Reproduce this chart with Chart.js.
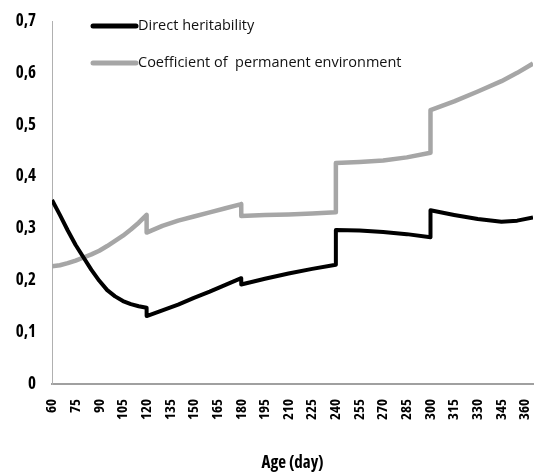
<!DOCTYPE html>
<html><head><meta charset="utf-8">
<script src="https://cdn.jsdelivr.net/npm/chart.js@4"></script>
<style>html,body{margin:0;padding:0;background:#fff}canvas{display:block}</style>
</head><body>
<canvas id="c" width="536" height="475"></canvas>
<script>
const ageDays = [60,65,70,75,80,85,90,95,100,105,110,115,120,120,130,140,150,160,170,180,180,195,210,225,240,240,255,270,285,300,300,315,330,345,355,365];
const directHeritability = [0.355,0.326,0.296,0.268,0.244,0.220,0.199,0.181,0.169,0.160,0.154,0.150,0.147,0.131,0.142,0.153,0.166,0.178,0.191,0.204,0.192,0.203,0.213,0.222,0.230,0.297,0.296,0.293,0.289,0.283,0.335,0.326,0.318,0.313,0.315,0.321];
const permanentEnvironment = [0.227,0.229,0.233,0.238,0.244,0.250,0.257,0.266,0.276,0.286,0.298,0.311,0.326,0.292,0.305,0.315,0.323,0.331,0.339,0.347,0.324,0.326,0.327,0.329,0.331,0.426,0.428,0.431,0.437,0.446,0.528,0.545,0.564,0.584,0.600,0.618];
const xTickValues = [60,75,90,105,120,135,150,165,180,195,210,225,240,255,270,285,300,315,330,345,360];
const yTickValues = [0,0.1,0.2,0.3,0.4,0.5,0.6,0.7];
const seriesLabels = ['Direct heritability','Coefficient of  permanent environment'];
const xAxisTitle = 'Age (day)';

const FAMILY = "'Open Sans','DejaVu Sans',sans-serif";

const inlineLegend = {
  id: 'inlineLegend',
  afterDraw(chart) {
    const ctx = chart.ctx;
    const a = chart.chartArea;
    ctx.save();
    chart.data.datasets.forEach((ds, i) => {
      const y = a.top + 5 + i * 37;
      const x0 = a.left + 41;
      ctx.beginPath();
      ctx.strokeStyle = ds.borderColor;
      ctx.lineWidth = 5;
      ctx.lineCap = 'round';
      ctx.moveTo(x0, y);
      ctx.lineTo(x0 + 43, y);
      ctx.stroke();
      ctx.fillStyle = '#111';
      ctx.font = "14.5px " + FAMILY;
      ctx.textBaseline = 'middle';
      ctx.textAlign = 'left';
      ctx.fillText(ds.label, x0 + 45, y);
    });
    ctx.restore();
  }
};

new Chart(document.getElementById('c'), {
  type: 'line',
  data: {
    datasets: [
      {
        label: seriesLabels[0],
        data: ageDays.map((d, i) => ({x: d, y: directHeritability[i]})),
        borderColor: '#000000',
        borderWidth: 4
      },
      {
        label: seriesLabels[1],
        data: ageDays.map((d, i) => ({x: d, y: permanentEnvironment[i]})),
        borderColor: '#a6a6a6',
        borderWidth: 4.5
      }
    ]
  },
  options: {
    responsive: false,
    animation: false,
    layout: {padding: {top: 21, right: 3, bottom: 0, left: 0}},
    plugins: {legend: {display: false}, tooltip: {enabled: false}},
    elements: {point: {radius: 0}, line: {tension: 0, borderJoinStyle: 'round'}},
    scales: {
      x: {
        type: 'linear', min: 60, max: 365,
        afterBuildTicks: s => { s.ticks = xTickValues.map(v => ({value: v})); },
        afterFit: s => { s.height = 91; s.paddingLeft = 0; s.paddingRight = 0; },
        grid: {display: false, drawTicks: false},
        border: {display: true, color: '#a0a0a0', width: 2},
        ticks: {minRotation: 90, maxRotation: 90, autoSkip: false, padding: 15, color: '#000',
                font: {family: FAMILY, size: 15, weight: 'bold condensed'}},
        title: {display: true, text: xAxisTitle, color: '#000', padding: {top: 0, bottom: 2},
                font: {family: FAMILY, size: 17, weight: 'bold condensed'}}
      },
      y: {
        min: 0, max: 0.7,
        afterBuildTicks: s => { s.ticks = yTickValues.map(v => ({value: v})); },
        afterFit: s => { s.width = 52; s.paddingTop = 0; s.paddingBottom = 0; },
        grid: {display: false, drawTicks: false},
        border: {display: true, color: '#b0b0b0', width: 1},
        ticks: {padding: 16, color: '#000', font: {family: FAMILY, size: 17, weight: 'bold condensed'},
                callback: v => v === 0 ? '0' : v.toFixed(1).replace('.', ',')}
      }
    }
  },
  plugins: [inlineLegend]
});
</script>
</body></html>
